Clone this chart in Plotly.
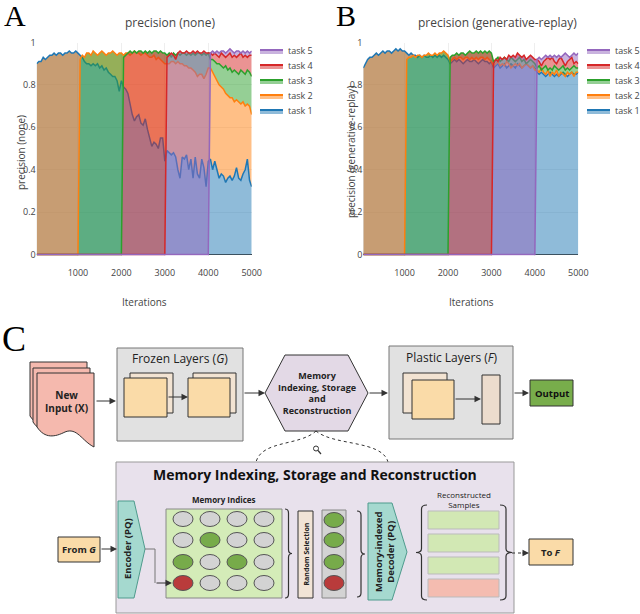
import plotly.graph_objects as go

# ---- chart data (precision per task, logged every 50 iterations) ----
STEP = 50
TASKS = ["task 1", "task 2", "task 3", "task 4", "task 5"]
TASK_START = [0, 1000, 2000, 3000, 4000]
TASK_COLORS = ["#1f77b4", "#ff7f0e", "#2ca02c", "#d62728", "#9467bd"]
X_TICKS = [1000, 2000, 3000, 4000, 5000]
Y_TICKS = [0, 0.2, 0.4, 0.6, 0.8, 1]
Y_TICK_LABELS = ["0", "0.2", "0.4", "0.6", "0.8", "1"]

# strategy "none"
NONE_TASK1 = [0.90, 0.91, 0.91, 0.93, 0.92, 0.93, 0.94, 0.94, 0.95, 0.94, 0.95, 0.95, 0.94, 0.95, 0.95, 0.96, 0.95, 0.95, 0.96, 0.95,
              0.94, 0.93, 0.91, 0.90, 0.90, 0.89, 0.90, 0.89, 0.90, 0.88, 0.89, 0.87, 0.88, 0.86, 0.85, 0.84, 0.84, 0.82, 0.77, 0.82,
              0.79, 0.78, 0.76, 0.70, 0.66, 0.63, 0.65, 0.66, 0.62, 0.61, 0.64, 0.59, 0.55, 0.51, 0.53, 0.52, 0.50, 0.55, 0.55, 0.44,
              0.49, 0.48, 0.47, 0.48, 0.46, 0.40, 0.36, 0.46, 0.45, 0.47, 0.40, 0.45, 0.36, 0.46, 0.38, 0.36, 0.45, 0.41, 0.32, 0.44,
              0.45, 0.40, 0.44, 0.40, 0.36, 0.38, 0.37, 0.34, 0.36, 0.37, 0.35, 0.37, 0.41, 0.36, 0.35, 0.38, 0.40, 0.45, 0.35, 0.32]
NONE_TASK2 = [0.92, 0.94, 0.93, 0.95, 0.95, 0.94, 0.96, 0.95, 0.94, 0.95, 0.96, 0.95, 0.94, 0.95, 0.95, 0.96, 0.95, 0.94, 0.95, 0.95,
              0.94, 0.95, 0.95, 0.94, 0.95, 0.96, 0.95, 0.95, 0.94, 0.95, 0.95, 0.94, 0.93, 0.93, 0.94, 0.92, 0.93, 0.92, 0.91, 0.90,
              0.90, 0.90, 0.91, 0.91, 0.90, 0.91, 0.90, 0.90, 0.89, 0.89, 0.88, 0.88, 0.87, 0.86, 0.84, 0.85, 0.85, 0.83, 0.85, 0.88,
              0.88, 0.86, 0.84, 0.82, 0.80, 0.79, 0.78, 0.76, 0.75, 0.74, 0.74, 0.72, 0.73, 0.72, 0.71, 0.72, 0.70, 0.71, 0.70, 0.66]
NONE_TASK3 = [0.93, 0.94, 0.95, 0.96, 0.95, 0.96, 0.95, 0.96, 0.96, 0.95, 0.96, 0.95, 0.96, 0.95, 0.96, 0.96, 0.95, 0.96, 0.95, 0.95,
              0.94, 0.95, 0.93, 0.95, 0.94, 0.95, 0.94, 0.95, 0.95, 0.94, 0.95, 0.94, 0.95, 0.94, 0.95, 0.95, 0.94, 0.95, 0.94, 0.95,
              0.92, 0.92, 0.91, 0.90, 0.90, 0.89, 0.88, 0.89, 0.87, 0.88, 0.86, 0.87, 0.86, 0.85, 0.87, 0.86, 0.85, 0.87, 0.86, 0.84]
NONE_TASK4 = [0.93, 0.94, 0.95, 0.94, 0.92, 0.95, 0.96, 0.95, 0.95, 0.96, 0.95, 0.95, 0.96, 0.95, 0.96, 0.95, 0.95, 0.96, 0.95, 0.95,
              0.95, 0.94, 0.95, 0.94, 0.93, 0.95, 0.94, 0.93, 0.94, 0.95, 0.93, 0.94, 0.93, 0.94, 0.95, 0.93, 0.94, 0.93, 0.94, 0.94]
NONE_TASK5 = [0.95, 0.96, 0.95, 0.96, 0.95, 0.96, 0.96, 0.95, 0.96, 0.97, 0.96, 0.95, 0.96, 0.96, 0.95, 0.96, 0.95, 0.96, 0.95, 0.96]

# strategy "generative-replay"
GR_TASK1 = [0.88, 0.90, 0.92, 0.93, 0.93, 0.94, 0.95, 0.94, 0.95, 0.96, 0.95, 0.96, 0.96, 0.95, 0.96, 0.97, 0.96, 0.97, 0.96, 0.96,
            0.95, 0.94, 0.95, 0.94, 0.94, 0.93, 0.94, 0.93, 0.94, 0.93, 0.93, 0.94, 0.93, 0.94, 0.93, 0.94, 0.93, 0.94, 0.93, 0.92,
            0.90, 0.91, 0.92, 0.91, 0.92, 0.91, 0.90, 0.91, 0.92, 0.91, 0.91, 0.92, 0.91, 0.90, 0.91, 0.92, 0.91, 0.91, 0.90, 0.91,
            0.88, 0.89, 0.90, 0.88, 0.89, 0.90, 0.88, 0.89, 0.90, 0.89, 0.88, 0.90, 0.89, 0.88, 0.89, 0.90, 0.89, 0.88, 0.89, 0.88,
            0.86, 0.85, 0.86, 0.85, 0.84, 0.85, 0.86, 0.85, 0.84, 0.85, 0.84, 0.85, 0.86, 0.85, 0.84, 0.85, 0.86, 0.85, 0.85, 0.86]
GR_TASK2 = [0.92, 0.93, 0.93, 0.94, 0.93, 0.94, 0.94, 0.93, 0.94, 0.94, 0.95, 0.94, 0.94, 0.95, 0.94, 0.95, 0.95, 0.96, 0.95, 0.94,
            0.91, 0.92, 0.93, 0.92, 0.93, 0.93, 0.92, 0.93, 0.93, 0.92, 0.93, 0.92, 0.93, 0.92, 0.93, 0.93, 0.92, 0.93, 0.92, 0.91,
            0.89, 0.90, 0.91, 0.89, 0.90, 0.89, 0.91, 0.90, 0.88, 0.89, 0.90, 0.89, 0.90, 0.88, 0.89, 0.90, 0.89, 0.88, 0.89, 0.87,
            0.87, 0.86, 0.88, 0.86, 0.85, 0.87, 0.84, 0.86, 0.85, 0.87, 0.84, 0.86, 0.85, 0.84, 0.86, 0.85, 0.86, 0.84, 0.86, 0.86]
GR_TASK3 = [0.93, 0.94, 0.94, 0.95, 0.94, 0.95, 0.95, 0.94, 0.95, 0.96, 0.95, 0.95, 0.96, 0.95, 0.96, 0.95, 0.96, 0.95, 0.96, 0.95,
            0.91, 0.92, 0.93, 0.91, 0.92, 0.93, 0.92, 0.91, 0.93, 0.92, 0.91, 0.92, 0.93, 0.91, 0.92, 0.90, 0.91, 0.92, 0.91, 0.90,
            0.88, 0.89, 0.87, 0.88, 0.89, 0.87, 0.88, 0.87, 0.89, 0.88, 0.87, 0.88, 0.89, 0.87, 0.88, 0.87, 0.88, 0.89, 0.88, 0.88]
GR_TASK4 = [0.90, 0.92, 0.91, 0.93, 0.92, 0.93, 0.92, 0.94, 0.93, 0.94, 0.93, 0.95, 0.94, 0.93, 0.94, 0.92, 0.93, 0.94, 0.93, 0.92,
            0.92, 0.91, 0.89, 0.91, 0.92, 0.93, 0.92, 0.93, 0.91, 0.90, 0.92, 0.93, 0.91, 0.89, 0.91, 0.92, 0.93, 0.90, 0.91, 0.90]
GR_TASK5 = [0.92, 0.93, 0.92, 0.93, 0.94, 0.93, 0.94, 0.93, 0.94, 0.93, 0.94, 0.93, 0.94, 0.95, 0.94, 0.93, 0.94, 0.95, 0.94, 0.95]

NONE_TASKS = [NONE_TASK1, NONE_TASK2, NONE_TASK3, NONE_TASK4, NONE_TASK5]
GR_TASKS = [GR_TASK1, GR_TASK2, GR_TASK3, GR_TASK4, GR_TASK5]

W, H = 640, 614
FONT = '"Open Sans", verdana, arial, sans-serif'


def rgba(hex_color, a):
    h = hex_color.lstrip("#")
    return f"rgba({int(h[0:2], 16)},{int(h[2:4], 16)},{int(h[4:6], 16)},{a})"


def task_series(start, values):
    xs = [start + STEP * (i + 1) for i in range(len(values))]
    ys = list(values)
    if start > 0:
        # task not trained yet -> precision 0
        xs = [STEP, start] + xs
        ys = [0, 0] + ys
    return xs, ys


fig = go.Figure()

for series, xa, ya in [(NONE_TASKS, "x", "y"), (GR_TASKS, "x2", "y2")]:
    for k, vals in enumerate(series):
        xs, ys = task_series(TASK_START[k], vals)
        fig.add_trace(go.Scatter(
            x=xs, y=ys, mode="lines", name=TASKS[k],
            line=dict(color=TASK_COLORS[k], width=1.5),
            fill="tozeroy" if k == 0 else "tonexty",
            fillcolor=rgba(TASK_COLORS[k], 0.5),
            xaxis=xa, yaxis=ya, showlegend=False))

shapes, ann = [], []


def rect(x0, y0, x1, y1, fill, line="#333", w=1):
    shapes.append(dict(type="rect", xref="x3", yref="y3", x0=x0, y0=y0, x1=x1, y1=y1,
                       fillcolor=fill, line=dict(color=line, width=w)))


def path(d, fill=None, line="#333", w=1, dash=None):
    s = dict(type="path", xref="x3", yref="y3", path=d, line=dict(color=line, width=w))
    if fill:
        s["fillcolor"] = fill
    if dash:
        s["line"]["dash"] = dash
    shapes.append(s)


def poly(pts, fill, line="#333", w=1):
    d = "M" + " L".join(f"{x},{y}" for x, y in pts) + " Z"
    path(d, fill, line, w)


def ellipse(cx, cy, fill, rx=10, ry=7.5, line="#555"):
    shapes.append(dict(type="circle", xref="x3", yref="y3", x0=cx - rx, x1=cx + rx,
                       y0=cy - ry, y1=cy + ry, fillcolor=fill, line=dict(color=line, width=1)))


def text(x, y, s, size, color="#222", angle=0, family=FONT, xanchor="center"):
    ann.append(dict(x=x, y=y, xref="x3", yref="y3", text=s, showarrow=False,
                    xanchor=xanchor, yanchor="middle", textangle=angle,
                    font=dict(size=size, color=color, family=family)))


def arrow(x0, y0, x1, y1):
    ann.append(dict(x=x1, y=y1, ax=x0, ay=y0, xref="x3", yref="y3", axref="x3", ayref="y3",
                    text="", showarrow=True, arrowhead=2, arrowsize=1.3, arrowwidth=1,
                    arrowcolor="#333", standoff=0))


def brace(xb, xt, ya, yb):
    xm, ym, r = (xb + xt) / 2, (ya + yb) / 2, 4
    d = (f"M{xb},{ya} Q{xm},{ya} {xm},{ya + r} L{xm},{ym - r} Q{xm},{ym} {xt},{ym} "
         f"Q{xm},{ym} {xm},{ym + r} L{xm},{yb - r} Q{xm},{yb} {xb},{yb}")
    path(d, line="#333", w=1.2)


# ---- panel letters, titles, axis titles, legends ----
serif = '"Liberation Serif", "Times New Roman", serif'
text(15, 15, "A", 30, "#000", family=serif)
text(346, 15, "B", 30, "#000", family=serif)
text(14, 339, "C", 36, "#000", family=serif)

text(170, 22, "precision (none)", 12, "#444")
text(497, 22, "precision (generative-replay)", 12, "#444")
text(21, 153, "precision (none)", 10, "#444", angle=-90)
text(351, 152, "precision (generative-replay)", 10, "#444", angle=-90)
text(144, 302, "Iterations", 10, "#444")
text(471, 302, "Iterations", 10, "#444")

for lx in (260, 587):
    for k in range(5):
        ly = 110 - 15 * k
        rect(lx, ly, lx + 23, ly + 4, rgba(TASK_COLORS[k], 0.5), line="rgba(0,0,0,0)", w=0)
        path(f"M{lx},{ly} L{lx + 23},{ly}", line=TASK_COLORS[k], w=2)
        text(lx + 26, ly, TASKS[k], 9, "#444", xanchor="left")

# ---- diagram: top row ----
page_fill = "#f5b9ae"
for dx, dy in [(-7, -11), (-4, -5), (0, 0)]:
    x0, y0 = 37 + dx, 373 + dy
    d = (f"M{x0},{y0} L{x0 + 57},{y0} L{x0 + 57},{y0 + 74} "
         f"C{x0 + 45},{y0 + 68} {x0 + 40},{y0 + 54} {x0 + 28},{y0 + 59} "
         f"C{x0 + 18},{y0 + 64} {x0 + 8},{y0 + 66} {x0},{y0 + 54} Z")
    path(d, fill=page_fill)
text(66, 401, "<b>New<br>Input (X)</b>", 10)
arrow(95, 401, 116, 401)

rect(117, 348, 243, 441, "#e1e1e1", line="#777")
text(180, 358, "Frozen Layers (<i>G</i>)", 12)
rect(130, 373, 173, 413, "#f2e3d2")
rect(124, 378, 167, 417, "#fadba8")
rect(193, 373, 236, 413, "#f2e3d2")
rect(188, 378, 230, 417, "#fadba8")
arrow(167, 397, 188, 397)
arrow(243, 393, 265, 393)

poly([(265, 393), (285, 355), (348, 355), (368, 393), (348, 431), (285, 431)], "#e3d9e6")
text(316.5, 393, "<b>Memory<br>Indexing, Storage<br>and<br>Reconstruction</b>", 9)
arrow(368, 393, 388, 393)

rect(389, 346, 513, 439, "#e1e1e1", line="#777")
text(452, 357, "Plastic Layers (<i>F</i>)", 12)
rect(403, 373, 447, 413, "#f2e3d2")
rect(412, 380, 454, 419, "#fadba8")
arrow(454, 399, 481, 399)
rect(482, 375, 500, 424, "#ecdccd")
arrow(513, 393, 529, 393)
rect(530, 380, 573, 406, "#78ad4b")
text(551.5, 393, "<b>Output</b>", 9.5, "#111")

# zoom connector
path("M316,431 C300,446 262,440 256,462", line="#333", w=1, dash="dot")
path("M316,431 C334,446 382,440 388,462", line="#333", w=1, dash="dot")
ellipse(316, 448.5, "#ffffff", rx=2.5, ry=2.5, line="#333")
path("M318,450.5 L321,454", line="#333", w=1.2)

# ---- diagram: memory module ----
rect(116, 462, 514, 613, "#e8e1ec", line="#999")
text(315, 474, "<b>Memory Indexing, Storage and Reconstruction</b>", 14, "#111")

rect(58, 537, 100, 562, "#fadba8")
text(79, 549.5, "<b>From <i>G</i></b>", 9.5)
arrow(100, 549, 117, 549)

poly([(118, 501), (134, 501), (145, 549), (134, 598), (118, 598)], "#a5d9cf", line="#4f9b8d")
text(127, 549, "<b>Encoder (PQ)</b>", 9.5, angle=-90)
path("M145,549 L155,549 L155,583", line="#777", w=1)
arrow(155, 583, 172, 583)

text(224, 499, "<b>Memory Indices</b>", 8)
rect(166, 509, 282, 598, "#d4ecb8", line="#888")
grey, green, red = "#d3d3d3", "#77ab4a", "#b93b3b"
grid_colors = [[grey, grey, grey, grey],
               [grey, green, grey, grey],
               [green, grey, green, grey],
               [red, grey, grey, grey]]
for r, cy in enumerate([519, 540, 562, 583]):
    for c, cx in enumerate([183, 210, 237, 264]):
        ellipse(cx, cy, grid_colors[r][c])
brace(285, 292, 509, 598)

rect(298, 511, 313, 598, "#f1e4d6")
text(305.5, 554, "<b>Random Selection</b>", 7, angle=-90)

rect(322, 510, 346, 598, "#d3d3d3", line="#888")
for cy, col in zip([520, 540, 562, 583], [green, green, green, red]):
    ellipse(334, cy, col)
brace(357, 365, 511, 597)

poly([(368, 503), (392, 503), (407, 552), (392, 600), (368, 600)], "#a5d9cf", line="#4f9b8d")
text(384, 552, "<b>Memory-indexed<br>Decoder (PQ)</b>", 9.5, angle=-90)

text(464, 499, "Reconstructed<br>Samples", 8)
brace(427, 416, 505, 600)
for (y0, y1), col in zip([(511, 529), (534, 552), (557, 574), (579, 597)],
                         ["#d2e8b4", "#d2e8b4", "#d2e8b4", "#f4bcb0"]):
    rect(428, y0, 499, y1, col, line="#bbb")
brace(500, 512, 505, 600)

path("M512,553 L522,553", line="#333", w=1, dash="dot")
arrow(521, 553, 529, 553)
rect(529, 539, 573, 565, "#fadba8")
text(551, 552, "<b>To <i>F</i></b>", 9.5)

axis_common = dict(showgrid=True, gridcolor="#eee", zeroline=True, zerolinecolor="#444",
                   zerolinewidth=1, showline=False, ticks="", tickfont=dict(size=9, color="#444"))
y_bottom, y_top = 255.8, 42.5
fig.update_layout(
    width=W, height=H, template="none",
    margin=dict(l=0, r=0, t=0, b=0),
    paper_bgcolor="white", plot_bgcolor="rgba(0,0,0,0)",
    font=dict(family=FONT, color="#444"),
    showlegend=False,
    xaxis=dict(domain=[36.7 / W, 251.7 / W], range=[STEP, 5000], tickvals=X_TICKS, anchor="y",
               ticklabelstandoff=10, **axis_common),
    yaxis=dict(domain=[1 - y_bottom / H, 1 - y_top / H], range=[-0.006, 1.0], tickvals=Y_TICKS,
               ticktext=Y_TICK_LABELS, anchor="x", **axis_common),
    xaxis2=dict(domain=[363.3 / W, 578.3 / W], range=[STEP, 5000], tickvals=X_TICKS, anchor="y2",
                ticklabelstandoff=10, **axis_common),
    yaxis2=dict(domain=[1 - y_bottom / H, 1 - y_top / H], range=[-0.006, 1.0], tickvals=Y_TICKS,
                ticktext=Y_TICK_LABELS, anchor="x2", **axis_common),
    xaxis3=dict(domain=[0, 1], range=[0, W], visible=False, anchor="y3"),
    yaxis3=dict(domain=[0, 1], range=[H, 0], visible=False, anchor="x3"),
    shapes=shapes, annotations=ann,
)

fig.write_html("out.html", config={"displayModeBar": False},
               post_script="document.body.style.margin='0';")
